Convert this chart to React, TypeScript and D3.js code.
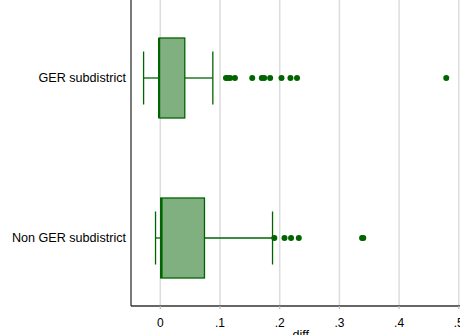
import React from "react";
import * as d3 from "d3";

const categories = ["GER subdistrict", "Non GER subdistrict"];
const whiskerLow = [-0.028, -0.008];
const q1 = [-0.002, 0.0007];
const median = [-0.002, 0.002];
const q3 = [0.041, 0.074];
const whiskerHigh = [0.088, 0.188];
const outliersGER = [0.110, 0.113, 0.117, 0.125, 0.154, 0.170, 0.174, 0.184, 0.203, 0.218, 0.229, 0.479];
const outliersNonGER = [0.191, 0.208, 0.219, 0.232, 0.338, 0.340];
const outliers = [outliersGER, outliersNonGER];
const xTicks = [0, 0.1, 0.2, 0.3, 0.4, 0.5];
const xTickLabels = ["0", ".1", ".2", ".3", ".4", ".5"];

export default function App() {
  const W = 460, H = 335;
  const left = 131, right = 460, bottom = 306, top = 0;
  const x = d3.scaleLinear().domain([0, 0.5]).range([160.3, 458.8]);
  const y = d3.scalePoint<string>().domain(categories).range([78, 238]);
  const boxH = 80, capH = 53;
  const green = "#006400";
  const fill = "#80b080";

  return (
    <svg width={W} height={H} style={{ position: "absolute", left: 0, top: 0, background: "#fff" }}
      fontFamily="Liberation Sans, Arial, sans-serif">
      <rect x={0} y={0} width={W} height={H} fill="#fff" />
      {xTicks.map((t, i) => (
        <line key={"g" + i} x1={x(t)} x2={x(t)} y1={top} y2={bottom} stroke="#dcdcdc" strokeWidth={1.5} />
      ))}
      {categories.map((c, i) => {
        const cy = y(c)!;
        return (
          <g key={c}>
            <line x1={x(whiskerLow[i])} x2={x(q1[i])} y1={cy} y2={cy} stroke={green} strokeWidth={1.3} />
            <line x1={x(q3[i])} x2={x(whiskerHigh[i])} y1={cy} y2={cy} stroke={green} strokeWidth={1.3} />
            <line x1={x(whiskerLow[i])} x2={x(whiskerLow[i])} y1={cy - capH / 2} y2={cy + capH / 2} stroke={green} strokeWidth={1.3} />
            <line x1={x(whiskerHigh[i])} x2={x(whiskerHigh[i])} y1={cy - capH / 2} y2={cy + capH / 2} stroke={green} strokeWidth={1.3} />
            <rect x={x(q1[i])} y={cy - boxH / 2} width={x(q3[i]) - x(q1[i])} height={boxH}
              fill={fill} stroke={green} strokeWidth={1.3} />
            <line x1={x(median[i])} x2={x(median[i])} y1={cy - boxH / 2} y2={cy + boxH / 2} stroke={green} strokeWidth={2.2} />
            {outliers[i].map((v, j) => (
              <circle key={j} cx={x(v)} cy={cy} r={3} fill={green} />
            ))}
            <text x={126} y={cy} dy="0.35em" textAnchor="end" fontSize={12.6} fill="#000">{c}</text>
          </g>
        );
      })}
      <line x1={left} x2={left} y1={top} y2={bottom} stroke="#333" strokeWidth={1.3} />
      <line x1={left} x2={right} y1={bottom} y2={bottom} stroke="#333" strokeWidth={1.3} />
      {xTicks.map((t, i) => (
        <g key={"t" + i}>
          <line x1={x(t)} x2={x(t)} y1={bottom} y2={bottom + 3} stroke="#bbb" strokeWidth={1.2} />
          <text x={x(t)} y={326.5} textAnchor="middle" fontSize={12} fill="#000">{xTickLabels[i]}</text>
        </g>
      ))}
      <text x={x(0.2) + 21} y={338.5} textAnchor="middle" fontSize={12.5} fill="#000">diff</text>
    </svg>
  );
}
